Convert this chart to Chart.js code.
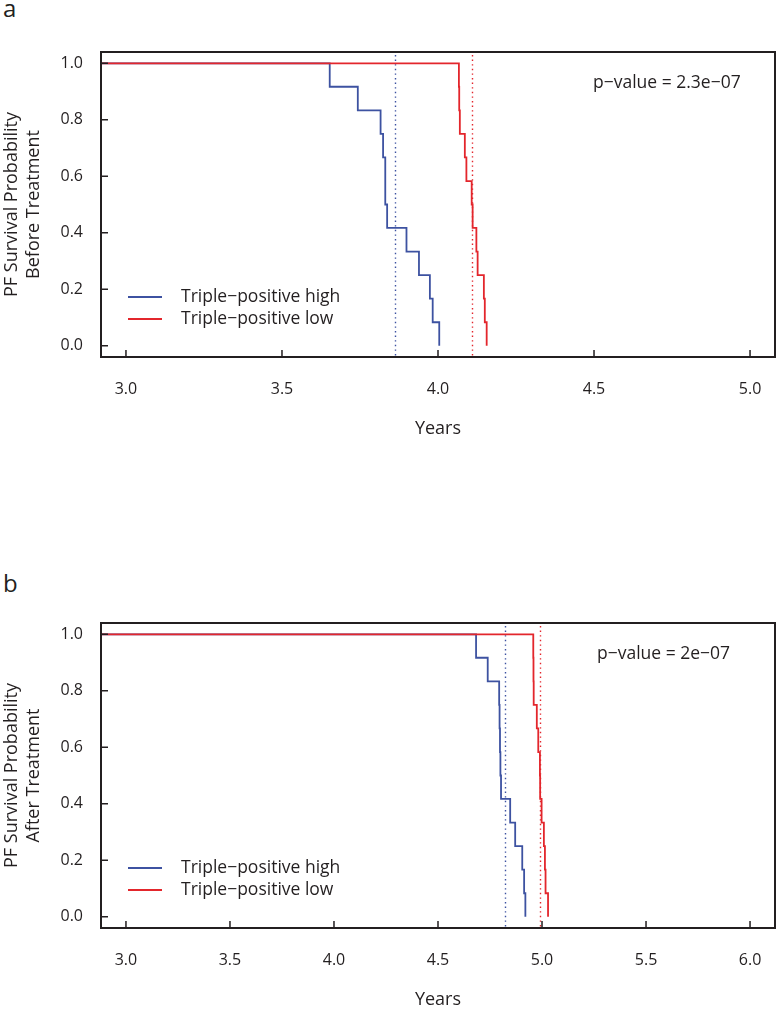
<!DOCTYPE html>
<html>
<head>
<meta charset="utf-8">
<script src="https://cdn.jsdelivr.net/npm/chart.js@4.4.1/dist/chart.umd.min.js"></script>
<style>
  body { margin: 0; background: #fff; width: 777px; height: 1012px; position: relative; overflow: hidden;
         font-family: 'Open Sans', sans-serif; color: #231f20; }
  .panel { position: absolute; left: 0; width: 777px; height: 440px; }
  .tag { position: absolute; left: 3px; font-size: 24px; line-height: 1; }
</style>
</head>
<body>
<div class="tag" style="top:-4px">a</div>
<div class="panel" style="top:0"><canvas id="chartA" width="777" height="440"></canvas></div>
<div class="tag" style="top:571px">b</div>
<div class="panel" style="top:571px"><canvas id="chartB" width="777" height="440"></canvas></div>

<script>
// panel a: before treatment (years, survival after each event)
const beforeHighYears = [0, 3.653, 3.743, 3.816, 3.824, 3.831, 3.837, 3.899, 3.939, 3.974, 3.983, 4.004];
const beforeHighSurv  = [1, 0.917, 0.833, 0.750, 0.667, 0.500, 0.417, 0.333, 0.250, 0.167, 0.083, 0];
const beforeLowYears  = [0, 4.067, 4.068, 4.070, 4.086, 4.091, 4.108, 4.111, 4.123, 4.127, 4.147, 4.150, 4.156];
const beforeLowSurv   = [1, 0.917, 0.833, 0.750, 0.667, 0.583, 0.500, 0.417, 0.333, 0.250, 0.167, 0.083, 0];
const beforeMedians   = [3.862, 4.108];   // high, low
const beforeXTicks    = [3.0, 3.5, 4.0, 4.5, 5.0];

// panel b: after treatment
const afterHighYears = [0, 4.683, 4.739, 4.794, 4.796, 4.798, 4.800, 4.803, 4.847, 4.871, 4.905, 4.914, 4.920];
const afterHighSurv  = [1, 0.917, 0.833, 0.750, 0.667, 0.583, 0.500, 0.417, 0.333, 0.250, 0.167, 0.083, 0];
const afterLowYears  = [0, 4.958, 4.959, 4.960, 4.975, 4.982, 4.990, 4.991, 4.998, 5.009, 5.014, 5.017, 5.029];
const afterLowSurv   = [1, 0.917, 0.833, 0.750, 0.667, 0.583, 0.500, 0.417, 0.333, 0.250, 0.167, 0.083, 0];
const afterMedians   = [4.823, 4.990];
const afterXTicks    = [3.0, 3.5, 4.0, 4.5, 5.0, 5.5, 6.0];

const yTicks = [0, 0.2, 0.4, 0.6, 0.8, 1.0];
const seriesNames = ["Triple\u2212positive high", "Triple\u2212positive low"];

const BLUE = "#3d52a1";
const RED = "#e3262c";
const INK = "#231f20";

Chart.defaults.font.family = "'Open Sans', sans-serif";
Chart.defaults.font.size = 16;
Chart.defaults.color = INK;

const pairs = (xs, ys) => xs.map((t, i) => ({ x: t, y: ys[i] }));

// box, inward ticks, median lines, legend and p-value like the R plot
const kmDecor = {
  id: "kmDecor",
  beforeDatasetsDraw(chart, args, opts) {
    const { ctx, chartArea: a, scales: { x } } = chart;
    ctx.save();
    ctx.lineWidth = 1.4;
    ctx.setLineDash([1.4, 3.2]);
    opts.medians.forEach((m, i) => {
      const px = Math.round(x.getPixelForValue(m)) + 0.5;
      ctx.strokeStyle = i === 0 ? BLUE : RED;
      ctx.beginPath();
      ctx.moveTo(px, a.top + 3);
      ctx.lineTo(px, a.bottom);
      ctx.stroke();
    });
    ctx.restore();
  },
  afterDraw(chart, args, opts) {
    const { ctx, chartArea: a, scales: { x, y } } = chart;
    ctx.save();
    ctx.strokeStyle = INK;
    ctx.lineWidth = 1.5;
    ctx.beginPath();
    for (const t of x.ticks) {
      const px = x.getPixelForValue(t.value);
      ctx.moveTo(px, a.bottom);
      ctx.lineTo(px, a.bottom - 7);
    }
    for (const t of y.ticks) {
      const py = y.getPixelForValue(t.value);
      ctx.moveTo(a.left, py);
      ctx.lineTo(a.left + 7, py);
    }
    ctx.stroke();
    ctx.lineWidth = 2;
    ctx.strokeRect(a.left, a.top, a.right - a.left, a.bottom - a.top);

    // legend
    ctx.font = "17.5px 'Open Sans', sans-serif";
    ctx.textBaseline = "middle";
    ctx.textAlign = "left";
    seriesNames.forEach((name, i) => {
      const ly = a.bottom - 60 + i * 22;
      ctx.strokeStyle = i === 0 ? BLUE : RED;
      ctx.lineWidth = 2;
      ctx.beginPath();
      ctx.moveTo(a.left + 27, ly);
      ctx.lineTo(a.left + 61, ly);
      ctx.stroke();
      ctx.fillStyle = INK;
      ctx.fillText(name, a.left + 80, ly);
    });

    ctx.fillText(opts.pText, a.left + opts.pLeft, a.top + 31);
    ctx.restore();
  }
};

function makePanel(id, highX, highY, lowX, lowY, medians, xTicks, xMin, xMax, yTitle, pText, pLeft) {
  return new Chart(document.getElementById(id), {
    type: "line",
    data: {
      datasets: [
        { label: seriesNames[1], data: pairs(lowX, lowY), borderColor: RED, borderWidth: 1.8,
          pointRadius: 0, stepped: true, fill: false },
        { label: seriesNames[0], data: pairs(highX, highY), borderColor: BLUE, borderWidth: 1.8,
          pointRadius: 0, stepped: true, fill: false }
      ]
    },
    options: {
      responsive: false,
      animation: false,
      devicePixelRatio: 1,
      layout: { padding: { top: 52, right: 2, left: 0, bottom: 0 } },
      plugins: {
        legend: { display: false },
        tooltip: { enabled: false },
        kmDecor: { medians, pText, pLeft }
      },
      scales: {
        x: {
          type: "linear", min: xMin, max: xMax,
          grid: { display: false }, border: { display: false },
          afterBuildTicks: s => { s.ticks = xTicks.map(v => ({ value: v })); },
          afterFit: s => { s.height = 83; s.paddingLeft = 0; s.paddingRight = 0; },
          ticks: { padding: 15, maxRotation: 0, callback: v => v.toFixed(1) },
          title: { display: true, text: "Years", font: { size: 18 }, padding: { top: 0, bottom: 0 } }
        },
        y: {
          type: "linear", min: -0.04, max: 1.04,
          grid: { display: false }, border: { display: false },
          afterBuildTicks: s => { s.ticks = yTicks.map(v => ({ value: v })); },
          afterFit: s => { s.width = 101; s.paddingTop = 0; s.paddingBottom = 0; },
          ticks: { padding: 10, callback: v => v.toFixed(1) },
          title: { display: true, text: yTitle, font: { size: 18, lineHeight: 1.22 }, padding: { top: 1, bottom: 0 } }
        }
      }
    },
    plugins: [kmDecor]
  });
}

makePanel("chartA", beforeHighYears, beforeHighSurv, beforeLowYears, beforeLowSurv, beforeMedians,
  beforeXTicks, 2.92, 5.08, ["PF Survival Probability", "Before Treatment"], "p\u2212value = 2.3e\u221207", 492);
makePanel("chartB", afterHighYears, afterHighSurv, afterLowYears, afterLowSurv, afterMedians,
  afterXTicks, 2.88, 6.12, ["PF Survival Probability", "After Treatment"], "p\u2212value = 2e\u221207", 496);
</script>
</body>
</html>
